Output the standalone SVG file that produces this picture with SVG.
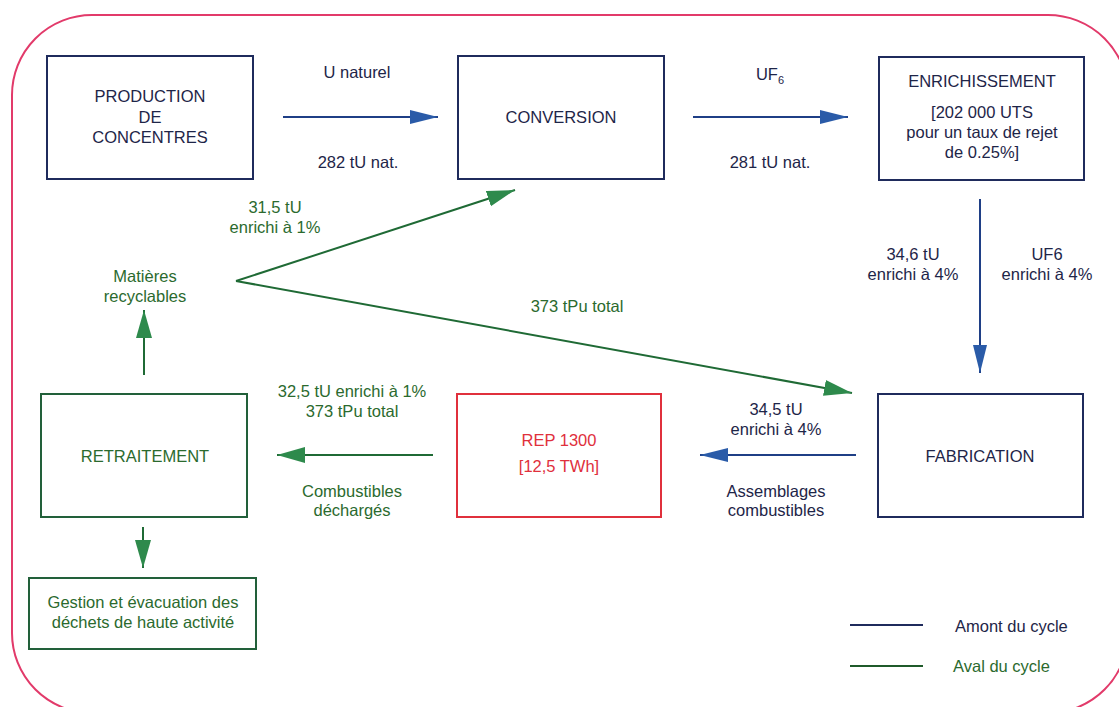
<svg xmlns="http://www.w3.org/2000/svg" width="1119" height="707" viewBox="0 0 1119 707">
<style>
text{font-family:"Liberation Sans",Arial,sans-serif;font-size:16.5px;text-anchor:middle}
.b{fill:#1e2548}
.g{fill:#2b6a2e}
.r{fill:#e0303c}
.bx{fill:none;stroke:#1f2b5c;stroke-width:2}
.gx{fill:none;stroke:#22603a;stroke-width:2}
.rx{fill:none;stroke:#e0303c;stroke-width:2}
.bl{stroke:#1f3f86;stroke-width:2;fill:none}
.gl{stroke:#1f6a35;stroke-width:2;fill:none}
</style>
<defs>
<marker id="ab" markerUnits="userSpaceOnUse" markerWidth="30" markerHeight="16" refX="28" refY="7" orient="auto" viewBox="0 0 30 16"><path d="M0,0 L28,7 L0,14 z" fill="#2a5ba8"/></marker>
<marker id="ag" markerUnits="userSpaceOnUse" markerWidth="30" markerHeight="18" refX="28" refY="8" orient="auto" viewBox="0 0 30 18"><path d="M0,0 L28,8 L0,16 z" fill="#2e8a4c"/></marker>
</defs>
<rect x="12" y="15" width="1116" height="698" rx="80" ry="80" fill="none" stroke="#e23a6a" stroke-width="2"/>
<g id="production"><rect class="bx" x="47" y="56" width="206" height="123"/><text class="b" x="150" y="102">PRODUCTION</text><text class="b" x="150" y="123">DE</text><text class="b" x="150" y="143">CONCENTRES</text></g>
<g id="conversion"><rect class="bx" x="458" y="56" width="206" height="123"/><text class="b" x="561" y="123">CONVERSION</text></g>
<g id="enrichissement"><rect class="bx" x="879" y="57" width="205" height="123"/><text class="b" x="982" y="87">ENRICHISSEMENT</text><text class="b" x="982" y="118">[202 000 UTS</text><text class="b" x="982" y="138">pour un taux de rejet</text><text class="b" x="982" y="158">de 0.25%]</text></g>
<g id="fabrication"><rect class="bx" x="878" y="394" width="205" height="123"/><text class="b" x="980" y="462">FABRICATION</text></g>
<g id="rep"><rect class="rx" x="457" y="394" width="204" height="123"/><text class="r" x="559" y="446">REP 1300</text><text class="r" x="559" y="472">[12,5 TWh]</text></g>
<g id="retraitement"><rect class="gx" x="41" y="394" width="206" height="123"/><text class="g" x="145" y="462">RETRAITEMENT</text></g>
<g id="gestion"><rect class="gx" x="29" y="578" width="227" height="71"/><text class="g" x="143" y="608">Gestion et évacuation des</text><text class="g" x="143" y="628">déchets de haute activité</text></g>
<g id="connectors">
<line class="bl" x1="283" y1="117" x2="438" y2="117" marker-end="url(#ab)"/>
<line class="bl" x1="693" y1="117" x2="848" y2="117" marker-end="url(#ab)"/>
<line class="bl" x1="980" y1="199" x2="980" y2="373" marker-end="url(#ab)"/>
<line class="bl" x1="856" y1="455" x2="700" y2="455" marker-end="url(#ab)"/>
<line class="gl" x1="433" y1="455" x2="277" y2="455" marker-end="url(#ag)"/>
<line class="gl" x1="144" y1="375" x2="144" y2="310" marker-end="url(#ag)"/>
<line class="gl" x1="143" y1="527" x2="143" y2="568" marker-end="url(#ag)"/>
<line class="gl" x1="236" y1="281" x2="515" y2="190" marker-end="url(#ag)"/>
<line class="gl" x1="236" y1="281" x2="852" y2="393" marker-end="url(#ag)"/>
</g>
<g id="labels">
<text class="b" x="357" y="78">U naturel</text>
<text class="b" x="358" y="168">282 tU nat.</text>
<text class="b" x="770" y="80">UF<tspan font-size="11" dy="4">6</tspan></text>
<text class="b" x="770" y="168">281 tU nat.</text>
<text class="g" x="275" y="213">31,5 tU</text>
<text class="g" x="275" y="233">enrichi à 1%</text>
<text class="g" x="145" y="282">Matières</text>
<text class="g" x="145" y="302">recyclables</text>
<text class="g" x="577" y="312">373 tPu total</text>
<text class="b" x="913" y="260">34,6 tU</text>
<text class="b" x="913" y="280">enrichi à 4%</text>
<text class="b" x="1047" y="260">UF6</text>
<text class="b" x="1047" y="280">enrichi à 4%</text>
<text class="g" x="352" y="397">32,5 tU enrichi à 1%</text>
<text class="g" x="352" y="417">373 tPu total</text>
<text class="g" x="352" y="497">Combustibles</text>
<text class="g" x="352" y="516">déchargés</text>
<text class="b" x="776" y="415">34,5 tU</text>
<text class="b" x="776" y="435">enrichi à 4%</text>
<text class="b" x="776" y="497">Assemblages</text>
<text class="b" x="776" y="516">combustibles</text>
</g>
<g id="legend">
<line x1="850" y1="625" x2="923" y2="625" stroke="#1f2b5c" stroke-width="2"/>
<text class="b" x="955" y="632" style="text-anchor:start">Amont du cycle</text>
<line x1="850" y1="666" x2="923" y2="666" stroke="#1f5a2a" stroke-width="2"/>
<text class="g" x="953" y="672" style="text-anchor:start">Aval du cycle</text>
</g>
</svg>
